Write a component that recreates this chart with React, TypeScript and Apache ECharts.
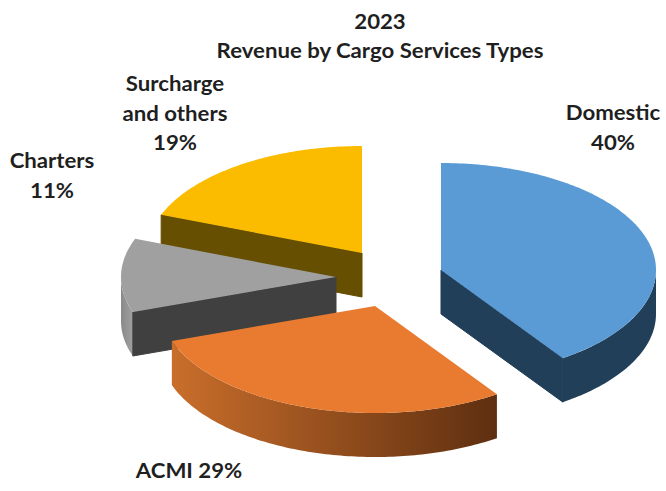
import React, { useEffect, useRef } from "react";
import * as echarts from "echarts";

const titleLines = ["2023", "Revenue by Cargo Services Types"];
const categories = ["Domestic", "ACMI", "Charters", "Surcharge\nand others"];
const values = [40, 29, 11, 19];
const separators = ["\n", " ", "\n", "\n"];

const topColors = ["#5A9AD5", "#E97B30", "#A0A0A0", "#FBBC00"];
const wallColors = ["#223F59", "#5E2F10", "#404040", "#664F00"];
const rimStops: [string, string][] = [
  ["#223F59", "#223F59"],
  ["#C96E2B", "#5E2F10"],
  ["#8A8A8A", "#A0A0A0"],
  ["#664F00", "#664F00"],
];
// Placement of each exploded slice (apex) and of its label on the page
const layouts = [
  { ax: 441, ay: 270, lx: 613, ly: 127 },
  { ax: 375, ay: 306, lx: 189, ly: 470 },
  { ax: 336, ay: 277, lx: 52, ly: 175 },
  { ax: 362, ay: 253, lx: 175, ly: 112.5 },
];
const RX = 215;
const RY = 107;
const depth = 44;
const total = values.reduce((a, b) => a + b, 0);
const FONT = "Lato";
const FONT_SIZE = 20;
const TEXT = "#1F1F1F";
const STRETCH = 1.11;
const LINE = 29.5;

function ringPoint(l: any, deg: number): number[] {
  const t = (deg * Math.PI) / 180;
  return [l.ax + RX * Math.sin(t), l.ay - RY * Math.cos(t)];
}

function arc(l: any, from: number, to: number): number[][] {
  const pts: number[][] = [];
  const n = Math.max(2, Math.ceil(Math.abs(to - from)));
  for (let i = 0; i <= n; i++) pts.push(ringPoint(l, from + ((to - from) * i) / n));
  return pts;
}

const drop = (p: number[]) => [p[0], p[1] + depth];

function renderSlice(params: any, api: any) {
  const i = params.dataIndex;
  const l = layouts[i];
  const z2 = 10 * (values.length - i);
  let before = 0;
  for (let k = 0; k < i; k++) before += values[k];
  const start = (before / total) * 360;
  const end = ((before + api.value(0)) / total) * 360;
  const children: any[] = [];

  const rimFrom = Math.max(start, 90);
  const rimTo = Math.min(end, 270);
  if (rimTo > rimFrom) {
    const a = arc(l, rimFrom, rimTo);
    const xs = a.map((p) => p[0]);
    children.push({
      type: "polygon",
      z2,
      shape: { points: [...a, ...a.slice().reverse().map(drop)] },
      style: {
        fill: {
          type: "linear",
          global: true,
          x: Math.min(...xs),
          y: 0,
          x2: Math.max(...xs),
          y2: 0,
          colorStops: [
            { offset: 0, color: rimStops[i][0] },
            { offset: 1, color: rimStops[i][1] },
          ],
        },
      },
    });
  }

  const wall = (deg: number) => {
    const tip = ringPoint(l, deg);
    children.push({
      type: "polygon",
      z2: z2 + 1,
      shape: { points: [[l.ax, l.ay], tip, drop(tip), [l.ax, l.ay + depth]] },
      style: { fill: wallColors[i], stroke: wallColors[i], lineWidth: 1 },
    });
  };
  if (start > 180 && start < 360) wall(start);
  if (end > 0 && end < 180) wall(end);

  children.push({
    type: "polygon",
    z2: z2 + 2,
    shape: { points: [[l.ax, l.ay], ...arc(l, start, end)] },
    style: { fill: topColors[i] },
  });
  children.push({
    type: "text",
    z2: 100,
    x: l.lx,
    y: l.ly,
    scaleX: STRETCH,
    style: {
      x: 0,
      y: 0,
      text: `${categories[i]}${separators[i]}${api.value(0)}%`,
      align: "center",
      verticalAlign: "middle",
      fill: TEXT,
      font: `bold ${FONT_SIZE}px ${FONT}`,
      lineHeight: LINE,
    },
  });
  return { type: "group", children };
}

export default function App() {
  const ref = useRef<HTMLDivElement>(null);
  useEffect(() => {
    const chart = echarts.init(ref.current!, undefined, { renderer: "svg" });
    chart.setOption({
      animation: false,
      backgroundColor: "#FFFFFF",
      graphic: [
        {
          type: "text",
          x: 380,
          y: 35.5,
          scaleX: STRETCH,
          style: {
            x: 0,
            y: 0,
            text: titleLines.join("\n"),
            align: "center",
            verticalAlign: "middle",
            fill: TEXT,
            font: `bold ${FONT_SIZE}px ${FONT}`,
            lineHeight: LINE,
          },
        },
      ],
      series: [
        {
          type: "custom",
          coordinateSystem: "none",
          clip: false,
          silent: true,
          data: values.map((v) => [v]),
          renderItem: renderSlice,
        },
      ],
    });
    return () => chart.dispose();
  }, []);
  return <div ref={ref} style={{ position: "fixed", left: 0, top: 0, width: 666, height: 491 }} />;
}
